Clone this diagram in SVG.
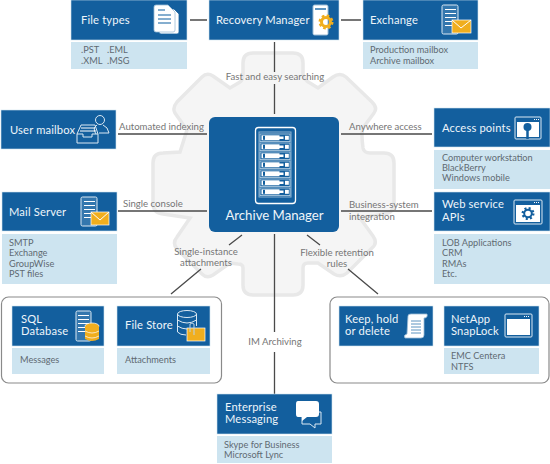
<svg xmlns="http://www.w3.org/2000/svg" xmlns:xlink="http://www.w3.org/1999/xlink" width="550" height="464" viewBox="0 0 550 464">
<style>
text{font-family:"Lato","Open Sans","Liberation Sans",sans-serif;font-weight:400}
.h{fill:#135f9e;stroke:#cfe3ef;stroke-width:.6}
.s{fill:#cde4f0}
.t{font-size:11.2px;letter-spacing:.15px;fill:#eef5fa}
.b{font-size:9.200px;fill:#5f6a72}
.l{font-size:9.600px;fill:#767676}
.c{stroke:#4a4a4a;stroke-width:1.300;fill:none}
.g{fill:none;stroke:#8a8a8a;stroke-width:1.200}
.i{fill:none;stroke:#dbe9f3;stroke-width:1}
.w{fill:#fff;stroke:#9dbdd6;stroke-width:.8}
.p{fill:#5d94c0;fill-opacity:.45;stroke:#dbe9f3;stroke-width:1}
.y{fill:#f0ae1e;stroke:#fff;stroke-width:.7}
</style>
<defs>
<g id="row"><rect x="260" y="0" width="30" height="7.600" fill="#135f9e" stroke="#bcd4e6" stroke-width=".8"/><rect x="261.500" y="1.300" width="18" height="5" fill="#fff"/><rect x="263" y="1.800" width="2" height="4" fill="#135f9e"/><rect x="285" y="1.800" width="3.800" height="4" fill="#fff"/><rect x="279" y="2.500" width="4.500" height="2.500" fill="#fff"/></g>
<g id="srv"><path d="M3 4.500H14M3 8.500H14M3 12.500H14M3 16.500H14M3 20.500H14" stroke="#fff" stroke-width="1.200"/></g>
</defs>
<path id="gear" d="M243 63Q243 53 253 53H293Q303 53 303 63V74Q304 80 310 83L318 88L333 77Q340 72 346 77L372 102Q378 108 374 113L363 128Q361 132 363 148Q364 153 370 153H384Q394 153 394 163V203Q394 213 384 214L360 218L373 236Q378 243 372 248L347 273Q341 278 334 274L318 263H308Q303 263 303 268V285Q303 295 293 295H253Q243 295 243 285V268Q243 264 238 264L230 263L213 275Q207 279 202 274L177 249Q172 243 177 237L190 218L163 214Q153 213 153 203V163Q153 153 163 153L180 152L187 130L175 113Q172 108 177 102L202 77Q207 72 213 76L230 88L240 82Q243 80 243 74Z" fill="#f5f5f5" stroke="#e8e8e8" stroke-width="3.500"/>
<g id="connectors">
<path class="c" d="M190 20H207M341 20H361M274.500 42V72M274.500 84V114M118 134H207M341 134H432M118 211H207M341 211H432M274.500 234V332M274.500 352V394M242 235L229 245M201 269L171 294M307 235L320 245M348 269L378 294"/>
</g>
<g id="labels">
<text class="l" x="275" y="80" text-anchor="middle">Fast and easy searching</text>
<text class="l" x="119" y="130">Automated indexing</text>
<text class="l" x="349" y="130">Anywhere access</text>
<text class="l" x="123" y="207">Single console</text>
<text class="l" x="349" y="208">Business-system</text>
<text class="l" x="349" y="220">integration</text>
<text class="l" x="206" y="254.500" text-anchor="middle">Single-instance</text>
<text class="l" x="206" y="266" text-anchor="middle">attachments</text>
<text class="l" x="337" y="255.500" text-anchor="middle">Flexible retention</text>
<text class="l" x="337" y="267" text-anchor="middle">rules</text>
<text class="l" x="275" y="345" text-anchor="middle">IM Archiving</text>
</g>
<rect class="g" x="1.500" y="297" width="220" height="86" rx="7"/>
<rect class="g" x="330" y="297" width="219" height="86" rx="7"/>
<g id="file-types"><rect class="h" x="71" y="0" width="116" height="40"/><rect class="s" x="71" y="42" width="116" height="27"/>
<text class="t" x="81" y="24">File types</text><text class="b" x="81" y="53">.PST</text><text class="b" x="107" y="53">.EML</text><text class="b" x="81" y="64">.XML</text><text class="b" x="107" y="64">.MSG</text>
<path d="M159 9H174L179 14V32Q179 34 177 34H161Q159 34 159 32Z" fill="#fff" stroke="#135f9e" stroke-width=".8"/><path class="w" d="M156 5H168L175 12V30Q175 32 173 32H156Q154 32 154 30V7Q154 5 156 5Z"/><path d="M158 10H165M158 15H171M158 19H171M158 23H171" stroke="#5d94c0" stroke-width="1.500"/></g>
<g id="recovery-manager"><rect class="h" x="209" y="0" width="130" height="40"/><text class="t" x="216" y="24">Recovery Manager</text>
<rect x="313" y="5" width="15" height="30" rx="1.500" fill="#fff" stroke="#9dbdd6"/><path d="M315 9H326" stroke="#5d94c0" stroke-width="2"/><circle cx="326" cy="22" r="6" fill="none" stroke="#f0ae1e" stroke-width="3" stroke-dasharray="2.500 2.200"/><circle cx="326" cy="22" r="4.500" fill="none" stroke="#f0ae1e" stroke-width="3"/></g>
<g id="exchange"><rect class="h" x="363" y="0" width="115" height="40"/><rect class="s" x="363" y="42" width="115" height="27"/><text class="t" x="370" y="24">Exchange</text><text class="b" x="370" y="53">Production mailbox</text><text class="b" x="370" y="64">Archive mailbox</text>
<rect class="p" x="442" y="5" width="16" height="29" rx="1.500"/><use xlink:href="#srv" href="#srv" x="442" y="5"/><rect class="y" x="452" y="20" width="19" height="13"/><path d="M452 20L461 28L471 20" fill="none" stroke="#fff"/></g>
<g id="user-mailbox"><rect class="h" x="1" y="110" width="115" height="39"/><text class="t" x="10" y="134">User mailbox</text>
<circle class="i" cx="100" cy="120" r="4.500"/><path class="i" d="M96 134Q92 128 97 125M103 125Q108 127 109 133H99"/><path class="i" d="M81 125H95L98 134V143H77V134Z M77 134H83V137H92V134H98"/><path d="M81 128H95M80 131H96" stroke="#fff"/></g>
<g id="archive-manager"><rect x="209" y="117" width="130" height="115" rx="6" fill="#135f9e"/>
<rect x="255.500" y="127.500" width="40" height="76" rx="3" fill="none" stroke="#fff" stroke-width="1.300"/>
<rect x="259" y="132" width="32" height="65" fill="none" stroke="#8fb4d2"/>
<use xlink:href="#row" href="#row" y="134"/><use xlink:href="#row" href="#row" y="143"/><use xlink:href="#row" href="#row" y="152"/><use xlink:href="#row" href="#row" y="161"/><use xlink:href="#row" href="#row" y="170"/><use xlink:href="#row" href="#row" y="179"/><use xlink:href="#row" href="#row" y="188"/>
<text x="274.500" y="220" text-anchor="middle" font-size="13.200" fill="#eef5fa">Archive Manager</text></g>
<g id="access-points"><rect class="h" x="434" y="108" width="116" height="39"/><rect class="s" x="434" y="150" width="116" height="39"/><text class="t" x="442" y="132">Access points</text><text class="b" x="442" y="161">Computer workstation</text><text class="b" x="442" y="171">BlackBerry</text><text class="b" x="442" y="181">Windows mobile</text>
<rect class="i" x="515" y="117" width="26" height="22" rx="1"/><rect x="517" y="122" width="22" height="15" fill="#fff"/><path d="M534 119.500H539" stroke="#fff" stroke-dasharray="1 1"/><circle cx="527.500" cy="127" r="4" fill="#135f9e"/><path d="M527.500 129V139" stroke="#135f9e" stroke-width="2.500"/></g>
<g id="web-service-apis"><rect class="h" x="434" y="192" width="116" height="39"/><rect class="s" x="434" y="234" width="116" height="50"/><text class="t" x="442" y="208">Web service</text><text class="t" x="442" y="221">APIs</text><text class="b" x="442" y="246">LOB Applications</text><text class="b" x="442" y="256">CRM</text><text class="b" x="442" y="267">RMAs</text><text class="b" x="442" y="277">Etc.</text>
<rect class="i" x="514" y="200" width="28" height="24" rx="1"/><rect x="516" y="205" width="24" height="17" fill="#fff"/><path d="M534 202.500H540" stroke="#fff" stroke-dasharray="1 1"/><circle cx="528" cy="213.500" r="5.300" fill="none" stroke="#135f9e" stroke-width="2.400" stroke-dasharray="2 2.160"/><circle cx="528" cy="213.500" r="3.800" fill="none" stroke="#135f9e" stroke-width="2"/></g>
<g id="mail-server"><rect class="h" x="2" y="192" width="115" height="39"/><rect class="s" x="2" y="234" width="115" height="50"/><text class="t" x="9" y="216">Mail Server</text><text class="b" x="9" y="246">SMTP</text><text class="b" x="9" y="256">Exchange</text><text class="b" x="9" y="267">GroupWise</text><text class="b" x="9" y="277">PST files</text>
<rect class="p" x="81" y="197" width="16" height="29" rx="1.500"/><use xlink:href="#srv" href="#srv" x="81" y="197"/><rect class="y" x="91" y="212" width="18" height="13"/><path d="M91 212L100 220L109 212" fill="none" stroke="#fff"/></g>
<g id="sql-database"><rect class="h" x="12" y="306" width="92" height="40"/><rect class="s" x="12" y="348" width="92" height="26"/><text class="t" x="21" y="323">SQL</text><text class="t" x="21" y="335">Database</text><text class="b" x="20" y="363">Messages</text>
<rect class="p" x="76" y="311" width="15" height="30" rx="1.500"/><use xlink:href="#srv" href="#srv" x="75" y="311"/><ellipse class="y" cx="92" cy="326" rx="7" ry="3"/><path d="M85 326V339Q92 343 99 339V326Q92 330 85 326Z" fill="#f0ae1e"/><path d="M85 331Q92 335 99 331M85 336Q92 340 99 336" fill="none" stroke="#fff" stroke-width=".7"/></g>
<g id="file-store"><rect class="h" x="117" y="306" width="93" height="40"/><rect class="s" x="117" y="348" width="93" height="26"/><text class="t" x="125" y="329">File Store</text><text class="b" x="125" y="363">Attachments</text>
<ellipse class="i" cx="187" cy="314" rx="9.500" ry="3.500"/><path class="i" d="M177.500 314V332Q180 335 186 335M196.500 314V326M177.500 320Q187 326 196.500 320M177.500 326Q182 329 187 329"/><rect class="y" x="187" y="328" width="18" height="13"/><path d="M190 332V324Q192 322 194 324V335" fill="none" stroke="#bcd4e6"/></g>
<g id="keep-hold"><rect class="h" x="339" y="306" width="94" height="40"/><text class="t" x="345" y="323">Keep, hold</text><text class="t" x="345" y="335">or delete</text>
<path d="M408 316Q408 314 411 314H427Q428 318 424 318V335Q424 338 421 338H405Q403 335 407 334Z" fill="#fff" stroke="#9dbdd6" stroke-width=".8"/><path d="M411 321H421M411 324H421M411 327H421M411 330H421M411 333H421" stroke="#5d94c0"/></g>
<g id="netapp-snaplock"><rect class="h" x="444" y="306" width="95" height="40"/><rect class="s" x="444" y="348" width="95" height="26"/><text class="t" x="451" y="323">NetApp</text><text class="t" x="451" y="335">SnapLock</text><text class="b" x="451" y="359">EMC Centera</text><text class="b" x="451" y="370">NTFS</text>
<rect class="i" x="505" y="314" width="27" height="23" rx="1"/><rect x="507" y="319" width="23" height="16" fill="#fff"/><path d="M524 316.500H530" stroke="#fff" stroke-dasharray="1 1"/></g>
<g id="enterprise-messaging"><rect class="h" x="217" y="394" width="115" height="40"/><rect class="s" x="217" y="436" width="115" height="27"/><text class="t" x="225" y="411">Enterprise</text><text class="t" x="225" y="423">Messaging</text><text class="b" x="224" y="448">Skype for Business</text><text class="b" x="224" y="458">Microsoft Lync</text>
<path class="i" d="M302 412H321V424H315V428L310 424H302Z"/><path d="M298 401H316Q319 401 319 404V414Q319 417 316 417H307L302 421V417H298Q296 417 296 414V404Q296 401 298 401Z" fill="#fff"/></g>
</svg>
